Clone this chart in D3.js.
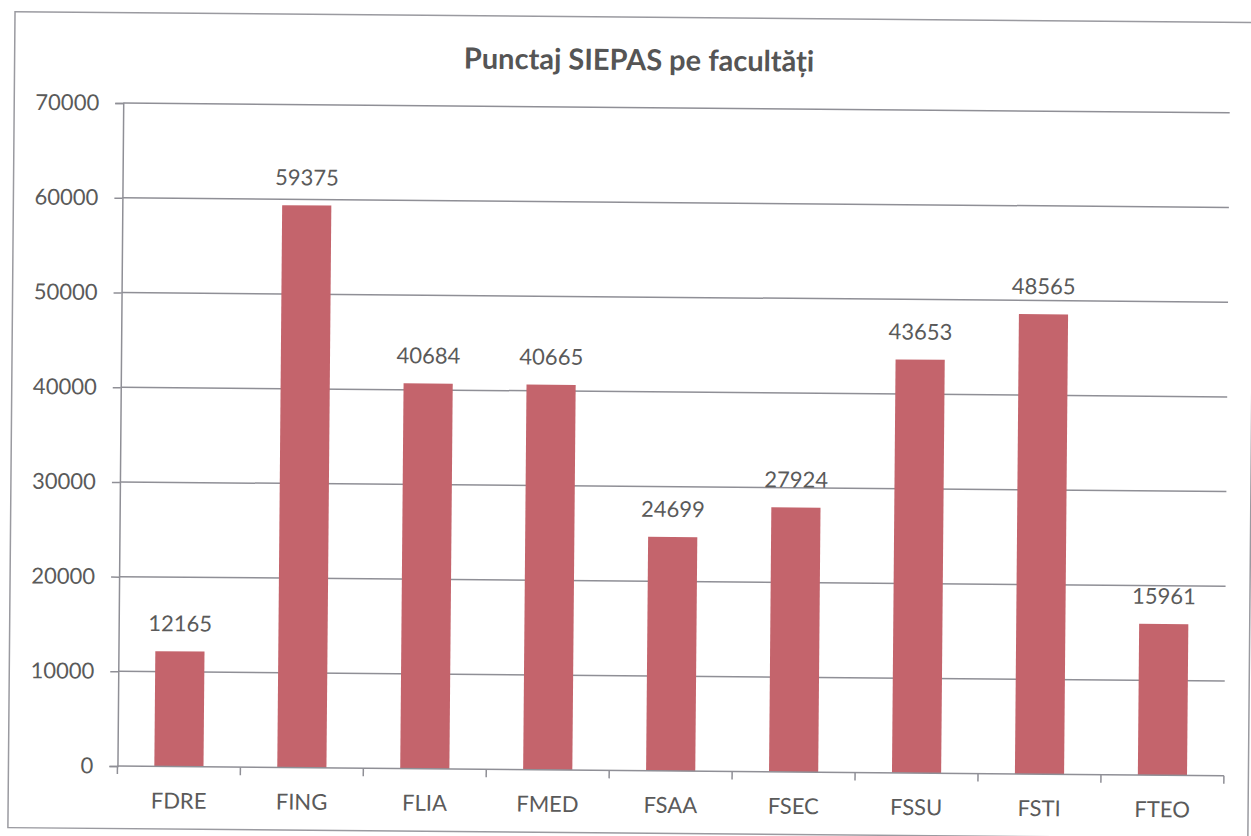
<!DOCTYPE html>
<html>
<head>
<meta charset="utf-8">
<script src="https://cdn.jsdelivr.net/npm/d3@7"></script>
<style>
  body { margin: 0; background: #ffffff; }
  svg { display: block; }
</style>
</head>
<body>
<div id="chart"></div>
<script>
// data
var faculties = ["FDRE", "FING", "FLIA", "FMED", "FSAA", "FSEC", "FSSU", "FSTI", "FTEO"];
var scores = [12165, 59375, 40684, 40665, 24699, 27924, 43653, 48565, 15961];
var yTicks = [0, 10000, 20000, 30000, 40000, 50000, 60000, 70000];
var title = "Punctaj SIEPAS pe facultăți";

var barColor = "#c4646c";
var gridColor = "#8f8f96";
var textColor = "#5a5a5a";
var font = "Lato, 'Open Sans', sans-serif";

var w = 1251, h = 836;
var plotLeft = 120.5, plotRight = 1227, plotTop = 107.5, plotBottom = 770.5;

var svg = d3.select("#chart").append("svg")
    .attr("width", w)
    .attr("height", h);

svg.append("rect").attr("width", w).attr("height", h).attr("fill", "#ffffff");

// the scan is tilted a little, so the whole chart is too
var g = svg.append("g").attr("transform", "rotate(0.5,625,418)");

// chart frame
g.append("rect")
    .attr("x", 11.5).attr("y", 17)
    .attr("width", 1240).attr("height", 816)
    .attr("fill", "none")
    .attr("stroke", "#9a9aa0")
    .attr("stroke-width", 1.5);

var x = d3.scaleBand()
    .domain(faculties)
    .range([plotLeft, plotRight])
    .paddingInner(0.6)
    .paddingOuter(0.3);

var y = d3.scaleLinear()
    .domain([0, 70000])
    .range([plotBottom, plotTop]);

// horizontal gridlines
g.append("g").selectAll("line")
    .data(yTicks.filter(function(d) { return d > 0; }))
    .enter().append("line")
    .attr("x1", plotLeft).attr("x2", plotRight)
    .attr("y1", function(d) { return y(d); })
    .attr("y2", function(d) { return y(d); })
    .attr("stroke", gridColor)
    .attr("stroke-width", 1.5);

// y axis
var yAxis = g.append("g")
    .attr("transform", "translate(" + plotLeft + ",0)")
    .call(d3.axisLeft(y).tickValues(yTicks).tickSize(8).tickPadding(16).tickFormat(d3.format("d")));
yAxis.select(".domain").attr("stroke", gridColor).attr("stroke-width", 1.5);
yAxis.selectAll(".tick line").attr("stroke", gridColor).attr("stroke-width", 1.5);
yAxis.selectAll("text")
    .attr("fill", textColor)
    .style("font-family", font)
    .style("font-size", "22px");

// bars
g.append("g").selectAll("rect")
    .data(scores)
    .enter().append("rect")
    .attr("x", function(d, i) { return x(faculties[i]); })
    .attr("y", function(d) { return y(d); })
    .attr("width", x.bandwidth())
    .attr("height", function(d) { return plotBottom - y(d); })
    .attr("fill", barColor);

// value labels above bars
g.append("g").selectAll("text")
    .data(scores)
    .enter().append("text")
    .attr("x", function(d, i) { return x(faculties[i]) + x.bandwidth() / 2; })
    .attr("y", function(d) { return y(d) - 20; })
    .attr("text-anchor", "middle")
    .attr("fill", textColor)
    .style("font-family", font)
    .style("font-size", "22px")
    .text(function(d) { return d; });

// x axis, ticks sit between categories
var step = (plotRight - plotLeft) / faculties.length;
var xAxis = g.append("g").attr("transform", "translate(0," + plotBottom + ")");
xAxis.append("line")
    .attr("x1", plotLeft).attr("x2", plotRight)
    .attr("stroke", gridColor).attr("stroke-width", 1.5);
xAxis.selectAll("line.tk")
    .data(d3.range(faculties.length + 1))
    .enter().append("line")
    .attr("class", "tk")
    .attr("x1", function(i) { return plotLeft + step * i; })
    .attr("x2", function(i) { return plotLeft + step * i; })
    .attr("y1", 0).attr("y2", 8)
    .attr("stroke", gridColor).attr("stroke-width", 1.5);
xAxis.selectAll("text")
    .data(faculties)
    .enter().append("text")
    .attr("x", function(d) { return x(d) + x.bandwidth() / 2; })
    .attr("y", 42)
    .attr("text-anchor", "middle")
    .attr("fill", textColor)
    .style("font-family", font)
    .style("font-size", "22px")
    .text(function(d) { return d; });

// title
g.append("text")
    .attr("x", 636)
    .attr("y", 70)
    .attr("text-anchor", "middle")
    .attr("fill", "#555555")
    .style("font-family", font)
    .style("font-weight", "bold")
    .style("font-size", "29px")
    .text(title);
</script>
</body>
</html>
